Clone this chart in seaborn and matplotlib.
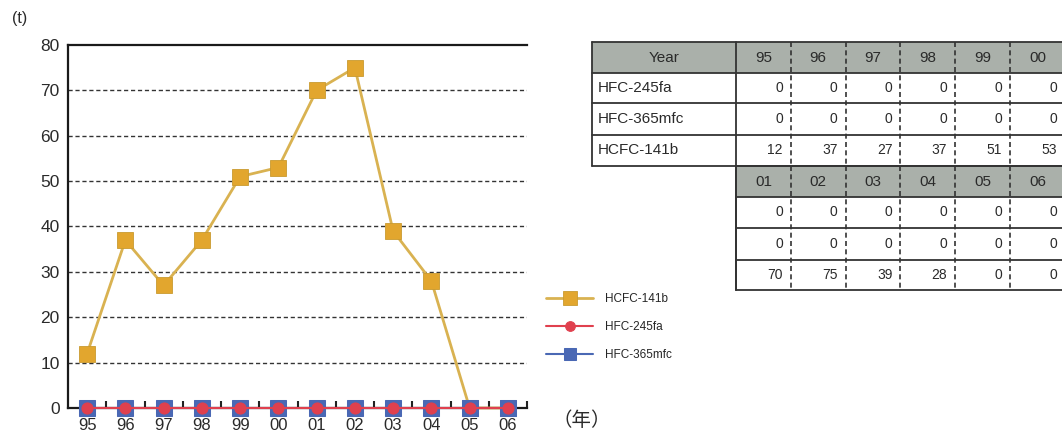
import numpy as np
import pandas as pd
import matplotlib
matplotlib.use("Agg")
import matplotlib.pyplot as plt
from matplotlib.patches import Rectangle
from matplotlib.ticker import FixedLocator
import seaborn as sns

# ── Data ──────────────────────────────────────────────────────────────────────
YEARS = ["95", "96", "97", "98", "99", "00", "01", "02", "03", "04", "05", "06"]
HCFC_141B = [12, 37, 27, 37, 51, 53, 70, 75, 39, 28, 0, 0]
HFC_245FA = [0, 0, 0, 0, 0, 0, 0, 0, 0, 0, 0, 0]
HFC_365MFC = [0, 0, 0, 0, 0, 0, 0, 0, 0, 0, 0, 0]
Y_TICKS = [0, 10, 20, 30, 40, 50, 60, 70, 80]

SERIES = ["HCFC-141b", "HFC-245fa", "HFC-365mfc"]
TABLE_LABELS = ["HFC-245fa", "HFC-365mfc", "HCFC-141b"]

COL_141B = "#E2A62E"
LINE_141B = "#D9B251"
COL_245FA = "#E0404E"
COL_365MFC = "#4A68B4"
HEAD_FILL = "#AAB0AA"
TXT = "#2a2a2a"

sns.set_style("white")
plt.rcParams["font.family"] = ["Liberation Sans", "Noto Sans CJK JP", "DejaVu Sans"]

W, H = 1062, 441
fig = plt.figure(figsize=(W / 100, H / 100), dpi=100)

# ── Line chart ────────────────────────────────────────────────────────────────
x0, x1, y0, y1 = 68, 527, 45, 408
ax = fig.add_axes([x0 / W, 1 - y1 / H, (x1 - x0) / W, (y1 - y0) / H])

pos = np.arange(len(YEARS))
df = pd.DataFrame({"pos": pos, "HCFC-141b": HCFC_141B,
                   "HFC-245fa": HFC_245FA, "HFC-365mfc": HFC_365MFC})

sns.lineplot(data=df, x="pos", y="HCFC-141b", ax=ax, color=LINE_141B, lw=2,
             marker="s", markersize=11.5, markerfacecolor=COL_141B,
             markeredgecolor="#C99A30", markeredgewidth=0.6,
             label="HCFC-141b", zorder=3, clip_on=False)
sns.lineplot(data=df, x="pos", y="HFC-365mfc", ax=ax, color=COL_365MFC, lw=1.5,
             marker="s", markersize=12, markerfacecolor=COL_365MFC,
             markeredgecolor=COL_365MFC, label="HFC-365mfc", zorder=4, clip_on=False)
sns.lineplot(data=df, x="pos", y="HFC-245fa", ax=ax, color=COL_245FA, lw=1.5,
             marker="o", markersize=8, markerfacecolor=COL_245FA,
             markeredgecolor=COL_245FA, label="HFC-245fa", zorder=5, clip_on=False)

ax.set_xlim(-0.5, len(YEARS) - 0.5)
ax.set_ylim(Y_TICKS[0], Y_TICKS[-1])
ax.set_xlabel("")
ax.set_ylabel("")

ax.set_xticks(pos)
ax.set_xticklabels(YEARS, fontsize=12, color=TXT)
ax.xaxis.set_minor_locator(FixedLocator(pos + 0.5))
ax.tick_params(axis="x", which="major", length=0, pad=7)
ax.tick_params(axis="x", which="minor", direction="in", length=5, width=1.5,
               color="#222222", bottom=True)
ax.set_yticks(Y_TICKS)
ax.set_yticklabels([str(v) for v in Y_TICKS], fontsize=12.5, color=TXT)
ax.tick_params(axis="y", length=0, pad=6)

for v in Y_TICKS[1:-1]:
    ax.axhline(v, color="#333333", lw=1, ls=(0, (3, 2)), zorder=1)

for side in ["left", "top", "bottom"]:
    ax.spines[side].set_color("#1a1a1a")
    ax.spines[side].set_linewidth(1.6)
ax.spines["right"].set_visible(False)

handles, labels = ax.get_legend_handles_labels()
order = [labels.index(s) for s in SERIES]
leg = ax.legend([handles[i] for i in order], SERIES, loc="upper left",
                bbox_to_anchor=(540 / W, 1 - 287 / H), bbox_transform=fig.transFigure,
                frameon=False, fontsize=8.5, handlelength=4, handletextpad=1.0,
                labelspacing=1.35, borderpad=0)
for h, ms in zip(leg.legend_handles, [9.5, 7, 8.5]):
    h.set_markersize(ms)

fig.text(12 / W, 1 - 18 / H, "(t)", fontsize=11.5, color=TXT, va="center")
fig.text(553 / W, 1 - 421 / H, "（年）", fontsize=14, color=TXT, va="center")

# ── Data table ────────────────────────────────────────────────────────────────
tab = fig.add_axes([0, 0, 1, 1], zorder=0)
tab.set_xlim(0, W)
tab.set_ylim(H, 0)
tab.axis("off")

lab_l, lab_r = 592, 736
cw = 54.8
rows_top = [42, 73, 103, 135, 166]
rows_bot = [166, 197, 228, 260, 290]
ncol = 6
edge = "#333333"


def draw_block(rows, years, values, with_labels):
    left = lab_l if with_labels else lab_r
    right = lab_r + cw * ncol
    tab.add_patch(Rectangle((left, rows[0]), right - left, rows[1] - rows[0],
                            facecolor=HEAD_FILL, edgecolor="none"))
    for y in rows:
        tab.plot([left, right], [y, y], color=edge, lw=1.3)
    tab.plot([left, left], [rows[0], rows[-1]], color=edge, lw=1.3)
    tab.plot([lab_r, lab_r], [rows[0], rows[-1]], color=edge, lw=1.3)
    for j in range(1, ncol):
        xx = lab_r + cw * j
        tab.plot([xx, xx], [rows[0], rows[-1]], color=edge, lw=1.2,
                 ls=(0, (3, 2)))
    hy = (rows[0] + rows[1]) / 2
    if with_labels:
        tab.text((lab_l + lab_r) / 2, hy, "Year", ha="center", va="center",
                 fontsize=11, color=TXT)
        for i, lab in enumerate(TABLE_LABELS):
            tab.text(lab_l + 6, (rows[i + 1] + rows[i + 2]) / 2, lab,
                     ha="left", va="center", fontsize=11, color=TXT)
    for j, yr in enumerate(years):
        tab.text(lab_r + cw * (j + 0.5), hy, yr, ha="center", va="center",
                 fontsize=11, color=TXT)
        for i, series in enumerate(values):
            tab.text(lab_r + cw * (j + 1) - 8, (rows[i + 1] + rows[i + 2]) / 2,
                     str(series[j]), ha="right", va="center", fontsize=10,
                     color=TXT)


draw_block(rows_top, YEARS[:6], [HFC_245FA[:6], HFC_365MFC[:6], HCFC_141B[:6]], True)
draw_block(rows_bot, YEARS[6:], [HFC_245FA[6:], HFC_365MFC[6:], HCFC_141B[6:]], False)

fig.savefig("out.png", dpi=100)
